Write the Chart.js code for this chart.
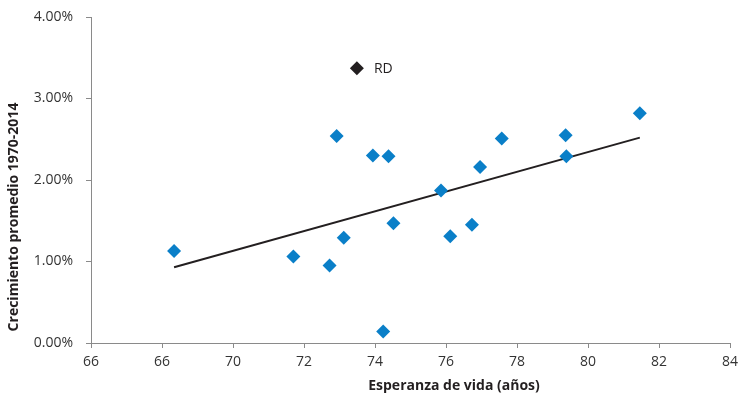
<!DOCTYPE html>
<html>
<head>
<meta charset="utf-8">
<script src="https://cdn.jsdelivr.net/npm/chart.js@4"></script>
<style>
  html, body { margin: 0; padding: 0; background: #fff; }
  #wrap { width: 738px; height: 397px; }
</style>
</head>
<body>
<div id="wrap"><canvas id="chart" width="738" height="397"></canvas></div>
<script>
// esperanza de vida (años) vs crecimiento promedio (%)
const lifeExp = [68.34, 71.70, 72.72, 72.92, 73.12, 73.94, 74.23, 74.38, 74.52, 75.86, 76.12, 76.73, 76.96, 77.57, 79.37, 79.39, 81.46];
const growth  = [1.13, 1.06, 0.95, 2.54, 1.29, 2.30, 0.14, 2.29, 1.47, 1.87, 1.31, 1.45, 2.16, 2.51, 2.55, 2.29, 2.82];

const rdX = [73.49];
const rdY = [3.37];
const rdLabel = 'RD';

const trendX = [68.34, 81.46];
const trendY = [0.93, 2.52];

// the reference prints "66" twice on the x axis
const xTickLabels = ['66', '66', '70', '72', '74', '76', '78', '80', '82', '84'];

const xTitle = 'Esperanza de vida (años)';
const yTitle = 'Crecimiento promedio 1970-2014';

const toPts = (xs, ys) => xs.map((x, i) => ({ x: x, y: ys[i] }));

const titlesPlugin = {
    id: 'titles',
    afterDraw(chart) {
        const ctx = chart.ctx;
        const xs = chart.scales.x, ys = chart.scales.y;
        ctx.save();
        ctx.fillStyle = '#231f20';
        ctx.font = 'bold 14px "Open Sans"';
        ctx.textAlign = 'center';
        ctx.textBaseline = 'middle';
        ctx.fillText(xTitle, 454, 386);
        ctx.translate(14, 217);
        ctx.rotate(-Math.PI / 2);
        ctx.fillText(yTitle, 0, 0);
        ctx.restore();

        // RD label
        ctx.save();
        ctx.fillStyle = '#231f20';
        ctx.font = '14px "Open Sans"';
        ctx.textAlign = 'left';
        ctx.textBaseline = 'middle';
        ctx.fillText(rdLabel, xs.getPixelForValue(rdX[0]) + 17, ys.getPixelForValue(rdY[0]) + 1);
        ctx.restore();
    }
};

const ctx = document.getElementById('chart');
new Chart(ctx, {
    type: 'scatter',
    data: {
        datasets: [
            {
                type: 'line',
                data: toPts(trendX, trendY),
                borderColor: '#231f20',
                borderWidth: 2,
                pointRadius: 0,
                fill: false,
                order: 2
            },
            {
                data: toPts(lifeExp, growth),
                pointStyle: 'rectRot',
                pointRadius: 7,
                backgroundColor: '#0a7fc8',
                borderColor: '#0a7fc8',
                borderWidth: 0,
                order: 1
            },
            {
                data: toPts(rdX, rdY),
                pointStyle: 'rectRot',
                pointRadius: 7,
                backgroundColor: '#231f20',
                borderColor: '#231f20',
                borderWidth: 0,
                order: 0
            }
        ]
    },
    options: {
        responsive: false,
        animation: false,
        layout: { padding: { top: 17, right: 8, left: 0, bottom: 0 } },
        plugins: {
            legend: { display: false },
            tooltip: { enabled: false }
        },
        scales: {
            x: {
                type: 'linear',
                min: 66,
                max: 84,
                afterFit(scale) {
                    scale.height = 54;
                    scale.paddingLeft = 0;
                    scale.paddingRight = 0;
                },
                afterBuildTicks(scale) {
                    scale.ticks = xTickLabels.map((t, i) => ({ value: 66 + i * 2 }));
                },
                ticks: {
                    stepSize: 2,
                    padding: 6,
                    color: '#333',
                    font: { family: '"Open Sans"', size: 14 },
                    callback: v => xTickLabels[Math.round((v - 66) / 2)]
                },
                grid: {
                    drawOnChartArea: false,
                    tickLength: 5,
                    color: '#8a8a8a'
                },
                border: { color: '#8a8a8a', width: 1 }
            },
            y: {
                min: 0,
                max: 4,
                afterFit(scale) {
                    scale.width = 91;
                    scale.paddingTop = 0;
                    scale.paddingBottom = 0;
                },
                ticks: {
                    stepSize: 1,
                    padding: 13,
                    color: '#333',
                    font: { family: '"Open Sans"', size: 14 },
                    callback: v => v.toFixed(2) + '%'
                },
                grid: {
                    drawOnChartArea: false,
                    tickLength: 5,
                    color: '#8a8a8a'
                },
                border: { color: '#8a8a8a', width: 1 }
            }
        }
    },
    plugins: [titlesPlugin]
});
</script>
</body>
</html>
